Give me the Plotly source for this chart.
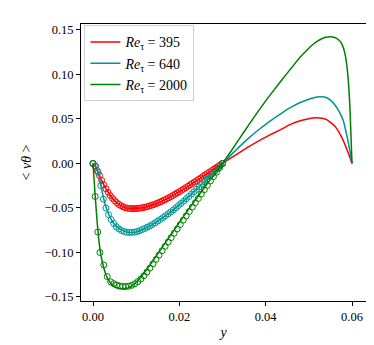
import plotly.graph_objects as go

# model curves (solid lines), shared wall-normal positions
line_x = [0.0, 0.0005, 0.001, 0.0015, 0.002,
          0.003, 0.004, 0.005, 0.006, 0.007, 0.008, 0.009, 0.010,
          0.012, 0.014, 0.016, 0.018, 0.020, 0.022, 0.024, 0.026, 0.028, 0.030,
          0.032, 0.034, 0.036, 0.038, 0.040, 0.042, 0.044, 0.046, 0.048, 0.050,
          0.051, 0.052, 0.053, 0.054, 0.055, 0.056, 0.057,
          0.0575, 0.058, 0.0585, 0.059, 0.0595, 0.060]

red_line = [0.0, -0.003, -0.008, -0.0135, -0.019,
            -0.0285, -0.036, -0.0417, -0.046, -0.0488, -0.0503, -0.0508, -0.0507,
            -0.0492, -0.0463, -0.0423, -0.0373, -0.0317, -0.0256, -0.0193, -0.0128, -0.0064, 0.0,
            0.0064, 0.0126, 0.0186, 0.0243, 0.0296, 0.0345, 0.0395, 0.0445, 0.0480, 0.0503,
            0.0510, 0.0513, 0.0509, 0.0495, 0.0462, 0.0420, 0.0350,
            0.0305, 0.0255, 0.0195, 0.0135, 0.0070, 0.0]

teal_line = [0.0, -0.002, -0.007, -0.016, -0.029,
             -0.049, -0.061, -0.0685, -0.073, -0.0757, -0.0772, -0.0776, -0.0770,
             -0.0730, -0.0680, -0.0615, -0.0545, -0.0465, -0.0380, -0.0290, -0.0195, -0.0098, 0.0,
             0.0097, 0.0192, 0.0282, 0.0365, 0.0440, 0.0510, 0.0575, 0.0635, 0.0685, 0.0722,
             0.0736, 0.0746, 0.0749, 0.0742, 0.0712, 0.0660, 0.0585,
             0.0535, 0.0480, 0.0380, 0.0270, 0.0145, 0.0]

green_line = [0.0, -0.036, -0.068, -0.092, -0.107,
              -0.125, -0.134, -0.1385, -0.1405, -0.1410, -0.1400, -0.1375, -0.1335,
              -0.1220, -0.1085, -0.0945, -0.0805, -0.0665, -0.0525, -0.0390, -0.0258, -0.0128, 0.0,
              0.0140, 0.0285, 0.0428, 0.0568, 0.0703, 0.0830, 0.0955, 0.1075, 0.1195, 0.1295,
              0.1340, 0.1375, 0.1402, 0.1418, 0.1424, 0.1415, 0.1385,
              0.1355, 0.1300, 0.1200, 0.1010, 0.0650, 0.0]

# reference data (open circles), lower half only
red_pts_x = [0.0000, 0.0005, 0.0010, 0.0015, 0.0020, 0.0025, 0.0030, 0.0035, 0.0040, 0.0045,
             0.0050, 0.0055, 0.0060, 0.0065, 0.0070, 0.0075, 0.0080, 0.0085, 0.0090, 0.0095,
             0.0100, 0.0105, 0.0110, 0.0115, 0.0120, 0.0125, 0.0130, 0.0135, 0.0140, 0.0145,
             0.0150, 0.0155, 0.0160, 0.0165, 0.0170, 0.0175, 0.0180, 0.0185, 0.0190, 0.0195,
             0.0200, 0.0205, 0.0210, 0.0215, 0.0220, 0.0225, 0.0230, 0.0235, 0.0240, 0.0245,
             0.0250, 0.0255, 0.0260, 0.0265, 0.0270, 0.0275, 0.0280, 0.0285, 0.0290, 0.0295,
             0.0300]
red_pts_y = [0.0, -0.0030, -0.0080, -0.0135, -0.0190, -0.0240, -0.0285, -0.0325, -0.0360, -0.0390,
             -0.0417, -0.0440, -0.0460, -0.0475, -0.0488, -0.0497, -0.0503, -0.0506, -0.0507, -0.0507,
             -0.0506, -0.0504, -0.0501, -0.0497, -0.0492, -0.0486, -0.0479, -0.0471, -0.0463, -0.0454,
             -0.0444, -0.0434, -0.0423, -0.0411, -0.0399, -0.0386, -0.0373, -0.0359, -0.0345, -0.0331,
             -0.0317, -0.0302, -0.0287, -0.0271, -0.0256, -0.0240, -0.0224, -0.0209, -0.0193, -0.0177,
             -0.0161, -0.0144, -0.0128, -0.0112, -0.0096, -0.0080, -0.0064, -0.0048, -0.0032, -0.0016,
             0.0]

teal_pts_x = [0.0000, 0.0006, 0.0012, 0.0018, 0.0024, 0.0030, 0.0036, 0.0042, 0.0048, 0.0054,
              0.0060, 0.0066, 0.0072, 0.0078, 0.0084, 0.0090, 0.0096, 0.0102, 0.0108, 0.0114,
              0.0120, 0.0126, 0.0132, 0.0138, 0.0144, 0.0150, 0.0156, 0.0162, 0.0168, 0.0174,
              0.0180, 0.0186, 0.0192, 0.0198, 0.0204, 0.0210, 0.0216, 0.0222, 0.0228, 0.0234,
              0.0240, 0.0246, 0.0252, 0.0258, 0.0264, 0.0270, 0.0276, 0.0282, 0.0288, 0.0294,
              0.0300]
teal_pts_y = [0.0, -0.0030, -0.0100, -0.0250, -0.0400, -0.0500, -0.0575, -0.0630, -0.0675, -0.0710,
              -0.0735, -0.0753, -0.0765, -0.0772, -0.0775, -0.0774, -0.0771, -0.0766, -0.0755, -0.0742,
              -0.0730, -0.0716, -0.0701, -0.0685, -0.0667, -0.0648, -0.0629, -0.0608, -0.0587, -0.0566,
              -0.0545, -0.0522, -0.0498, -0.0473, -0.0448, -0.0423, -0.0397, -0.0371, -0.0344, -0.0317,
              -0.0290, -0.0262, -0.0233, -0.0205, -0.0176, -0.0147, -0.0118, -0.0088, -0.0059, -0.0029,
              0.0]

green_pts_x = [0.0, 0.0005, 0.0011, 0.0016, 0.0025, 0.0033, 0.0041, 0.0048, 0.0055, 0.0062,
               0.0069, 0.0076, 0.0083, 0.0090, 0.0097, 0.0104, 0.0111, 0.0118, 0.0125, 0.0132,
               0.0139, 0.0146, 0.0153, 0.0160, 0.0167, 0.0174, 0.0181, 0.0188, 0.0195, 0.0202,
               0.0209, 0.0216, 0.0223, 0.0230, 0.0237, 0.0244, 0.0251, 0.0258, 0.0265, 0.0272,
               0.0279, 0.0286, 0.0293, 0.0300]
green_pts_y = [0.0, -0.037, -0.077, -0.100, -0.114, -0.127, -0.1330, -0.1350, -0.1366, -0.1376,
               -0.1381, -0.1382, -0.1378, -0.1368, -0.1351, -0.1327, -0.1297, -0.1261, -0.1220, -0.1175,
               -0.1127, -0.1078, -0.1029, -0.0980, -0.0931, -0.0882, -0.0833, -0.0784, -0.0735, -0.0686,
               -0.0637, -0.0588, -0.0539, -0.0490, -0.0441, -0.0392, -0.0343, -0.0294, -0.0245, -0.0196,
               -0.0147, -0.0098, -0.0049, 0.0]

names = ['<i>Re</i><sub>τ</sub> = 395', '<i>Re</i><sub>τ</sub> = 640', '<i>Re</i><sub>τ</sub> = 2000']
colors = ['#ff0000', '#009494', '#008000']

x_ticks = [0.0, 0.02, 0.04, 0.06]
x_labels = ['0.00', '0.02', '0.04', '0.06']
y_ticks = [-0.15, -0.10, -0.05, 0.0, 0.05, 0.10, 0.15]
y_labels = ['−0.15', '−0.10', '−0.05', '0.00', '0.05', '0.10', '0.15']

fig = go.Figure()

pts = [(red_pts_x, red_pts_y), (teal_pts_x, teal_pts_y), (green_pts_x, green_pts_y)]
for (px, py), c in zip(pts, colors):
    fig.add_trace(go.Scatter(x=px, y=py, mode='markers', showlegend=False,
                             marker=dict(symbol='circle-open', size=6, color=c, line=dict(width=1, color=c))))

for ys, c, n in zip([red_line, teal_line, green_line], colors, names):
    fig.add_trace(go.Scatter(x=line_x, y=ys, mode='lines', name=n,
                             line=dict(color=c, width=1.5, shape='spline', smoothing=0.5)))

fig.update_layout(
    width=374, height=345,
    margin=dict(l=73, r=16, t=16, b=52),
    paper_bgcolor='white', plot_bgcolor='white',
    font=dict(family='Liberation Serif', size=12.5, color='black'),
    legend=dict(x=0.012, y=0.995, xanchor='left', yanchor='top',
                bgcolor='rgba(255,255,255,0.8)', bordercolor='#d0d0d0', borderwidth=1,
                font=dict(size=14), tracegroupgap=0),
)
fig.update_xaxes(range=[-0.00278, 0.06324], tickvals=x_ticks, ticktext=x_labels,
                 ticks='outside', ticklen=4, tickcolor='black',
                 showline=True, linecolor='black', linewidth=1, mirror=True,
                 showgrid=False, zeroline=False,
                 title=dict(text='<i>y</i>', font=dict(size=14), standoff=4))
fig.update_yaxes(range=[-0.1545, 0.1567], tickvals=y_ticks, ticktext=y_labels,
                 ticks='outside', ticklen=4, tickcolor='black',
                 showline=True, linecolor='black', linewidth=1, mirror=True,
                 showgrid=False, zeroline=False,
                 title=dict(text='&lt; <i>vθ</i> &gt;', font=dict(size=14), standoff=9))

fig.write_html("out.html")
